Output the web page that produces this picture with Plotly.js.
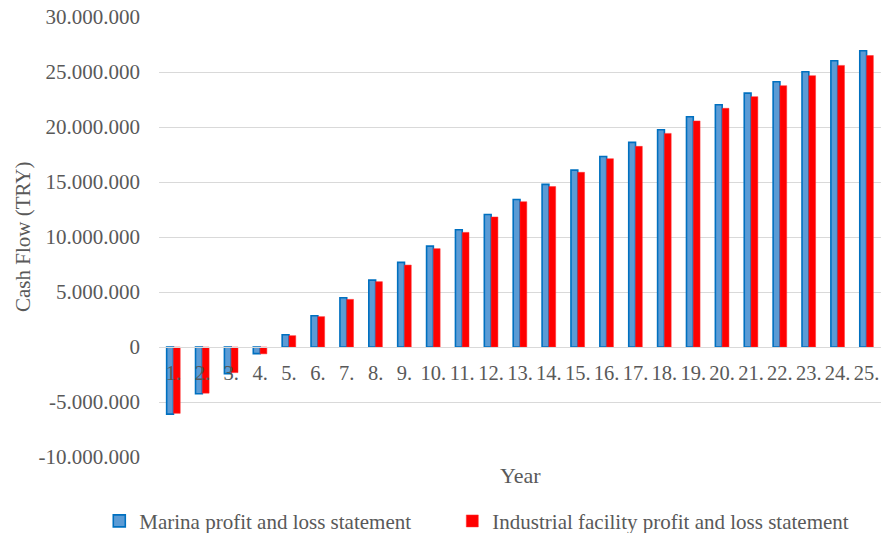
<!DOCTYPE html>
<html>
<head>
<meta charset="utf-8">
<script src="https://cdn.plot.ly/plotly-3.0.1.min.js"></script>
<style>html,body{margin:0;padding:0;background:#fff;}#chart{width:881px;height:533px;}</style>
</head>
<body>
<div id="chart"></div>
<script>
const years = ["1.","2.","3.","4.","5.","6.","7.","8.","9.","10.","11.","12.","13.","14.","15.","16.","17.","18.","19.","20.","21.","22.","23.","24.","25."];
const marina = [-6100000,-4250000,-2420000,-600000,1110000,2840000,4480000,6080000,7690000,9170000,10660000,12050000,13410000,14780000,16080000,17320000,18600000,19750000,20930000,22020000,23080000,24110000,25020000,26020000,26930000];
const industrial = [-6030000,-4200000,-2330000,-620000,1030000,2760000,4330000,5940000,7450000,8940000,10420000,11820000,13210000,14580000,15880000,17120000,18240000,19420000,20550000,21700000,22760000,23760000,24670000,25600000,26500000];
const seriesNames = ["Marina profit and loss statement","Industrial facility profit and loss statement"];
const yTicks = [-10000000,-5000000,0,5000000,10000000,15000000,20000000,25000000,30000000];
const yTickText = ["-10.000.000","-5.000.000","0","5.000.000","10.000.000","15.000.000","20.000.000","25.000.000","30.000.000"];

const FONT = "Liberation Serif, Times New Roman, serif";
const GRAY = "#595959";

const traces = [
  {type:"bar", name:seriesNames[0], x:years, y:marina, legend:"legend",
   marker:{color:"#5B9BD5", line:{color:"#0070C0", width:1.6}}},
  {type:"bar", name:seriesNames[1], x:years, y:industrial, legend:"legend2",
   marker:{color:"#FF0000", line:{color:"#FF3030", width:0.5}}}
];

const legendBase = {orientation:"h", xref:"container", yref:"container",
    y:0.022, xanchor:"left", yanchor:"middle",
    font:{family:FONT, size:21, color:GRAY},
    itemwidth:30, bgcolor:"rgba(0,0,0,0)"};

const layout = {
  width:881, height:533,
  margin:{l:159, r:0, t:17, b:76},
  paper_bgcolor:"#fff", plot_bgcolor:"#fff",
  barmode:"group", bargap:0.53, bargroupgap:0,
  font:{family:FONT, color:GRAY, size:20},
  xaxis:{type:"category", anchor:"free", position:0.25,
    showline:true, linecolor:"#d9d9d9", linewidth:1,
    showgrid:false, ticks:"", zeroline:false,
    tickfont:{family:FONT, size:20.5, color:GRAY}, ticklabelstandoff:7},
  yaxis:{range:[-10000000,30000000], tickvals:yTicks, ticktext:yTickText,
    showgrid:true, gridcolor:"#d9d9d9", gridwidth:1,
    zeroline:true, zerolinecolor:"#d9d9d9", zerolinewidth:1,
    showline:false, ticks:"", ticklabelstandoff:18,
    tickfont:{family:FONT, size:21, color:GRAY}},
  showlegend:true,
  legend:Object.assign({}, legendBase, {x:0.1127}),
  legend2:Object.assign({}, legendBase, {x:0.5134}),
  annotations:[
    {text:"Year", xref:"paper", yref:"paper", x:(520-159)/722, y:(533-76-475)/440,
     xanchor:"center", yanchor:"middle", showarrow:false,
     font:{family:FONT, size:22, color:GRAY}},
    {text:"Cash Flow (TRY)", xref:"paper", yref:"paper", x:(23-159)/722, y:(457-237)/440,
     xanchor:"center", yanchor:"middle", textangle:-90, showarrow:false,
     font:{family:FONT, size:21, color:GRAY}}
  ]
};

Plotly.newPlot("chart", traces, layout, {displayModeBar:false, staticPlot:true});
</script>
</body>
</html>
